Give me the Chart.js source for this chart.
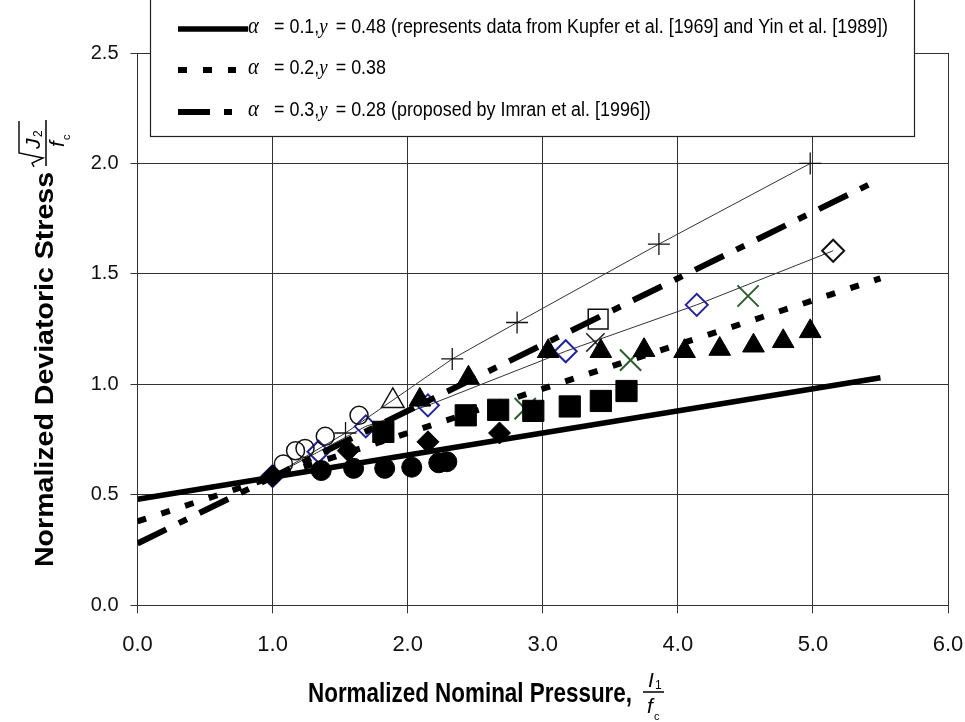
<!DOCTYPE html>
<html>
<head>
<meta charset="utf-8">
<script src="https://cdn.jsdelivr.net/npm/chart.js@4.4.0/dist/chart.umd.min.js"></script>
<style>
  html, body { margin: 0; padding: 0; background: #fff; }
  #wrap { width: 965px; height: 722px; }
</style>
</head>
<body>
<div id="wrap"><canvas id="stress" width="965" height="722"></canvas></div>
<script>
// failure envelopes: sqrt(J2)/fc = alpha * I1/fc + gamma
const envX = [0, 5.5];
const env1Y = [0.48, 1.03]; // alpha 0.1, gamma 0.48
const env2Y = [0.38, 1.48]; // alpha 0.2, gamma 0.38
const env3Y = [0.28, 1.93]; // alpha 0.3, gamma 0.28

// test data
const circleX = [1.36, 1.60, 1.83, 2.03, 2.23, 2.29];
const circleY = [0.61, 0.62, 0.62, 0.625, 0.645, 0.65];
const openCircleX = [1.08, 1.17, 1.24, 1.39, 1.64];
const openCircleY = [0.64, 0.70, 0.71, 0.765, 0.86];
const diamondX = [1.0, 1.34, 1.69, 2.15, 3.17, 4.14, 5.15];
const diamondY = [0.585, 0.695, 0.81, 0.905, 1.15, 1.36, 1.605];
const plusX = [1.0, 1.54, 2.33, 2.81, 3.86, 4.98];
const plusY = [0.585, 0.78, 1.115, 1.28, 1.635, 2.0];
const openTriX = [1.89];
const openTriY = [0.925];
const triX = [2.09, 2.45, 3.04, 3.43, 3.75, 4.05, 4.31, 4.56, 4.78, 4.98];
const triY = [0.93, 1.03, 1.15, 1.15, 1.155, 1.15, 1.16, 1.175, 1.195, 1.24];
const squareX = [1.82, 2.43, 2.67, 2.93, 3.20, 3.43, 3.62];
const squareY = [0.785, 0.86, 0.885, 0.88, 0.90, 0.925, 0.97];
const blackDiamondX = [1.0, 1.56, 2.15, 2.68];
const blackDiamondY = [0.585, 0.70, 0.74, 0.78];
const crossX = [2.87, 3.65, 4.52];
const crossY = [0.89, 1.11, 1.40];
const openSquareX = [3.41];
const openSquareY = [1.295];
const starX = [3.39];
const starY = [1.19];

const xTicks = [0, 1, 2, 3, 4, 5, 6];
const yTicks = [0, 0.5, 1.0, 1.5, 2.0, 2.5];

const legendRows = [
  { text: "= 0.1,", g: "= 0.48 (represents data from Kupfer et al. [1969] and Yin et al. [1989])" },
  { text: "= 0.2,", g: "= 0.38" },
  { text: "= 0.3,", g: "= 0.28 (proposed by Imran et al. [1996])" }
];

const pts = (xs, ys) => xs.map((x, i) => ({ x: x, y: ys[i] }));

const GRID = "#333";
const NAVY = "#22229a";
const GREEN = "#2e5e2e";

const lineStyles = [
  { width: 5.5, dash: [] },
  { width: 6, dash: [9, 16] },
  { width: 6, dash: [32, 14, 9, 14] }
];

const datasets = [
  { data: pts(envX, env1Y), showLine: true, borderColor: "#000", borderWidth: lineStyles[0].width, borderDash: lineStyles[0].dash, pointRadius: 0 },
  { data: pts(envX, env2Y), showLine: true, borderColor: "#000", borderWidth: lineStyles[1].width, borderDash: lineStyles[1].dash, pointRadius: 0 },
  { data: pts(envX, env3Y), showLine: true, borderColor: "#000", borderWidth: lineStyles[2].width, borderDash: lineStyles[2].dash, pointRadius: 0 },
  { data: pts(circleX, circleY), pointStyle: "circle", pointRadius: 10, backgroundColor: "#000", borderColor: "#000" },
  { data: pts(squareX, squareY), pointStyle: "rect", pointRadius: 15, backgroundColor: "#000", borderColor: "#000" },
  { data: pts(triX, triY), pointStyle: "triangle", pointRadius: 12.5, backgroundColor: "#000", borderColor: "#000" },
  { data: pts(blackDiamondX, blackDiamondY), pointStyle: "rectRot", pointRadius: 11, backgroundColor: "#000", borderColor: "#000" },
  { data: pts(openCircleX, openCircleY), pointStyle: "circle", pointRadius: 9, backgroundColor: "rgba(0,0,0,0)", borderColor: "#111", borderWidth: 1.5 },
  { data: pts(plusX, plusY), showLine: true, borderColor: "#333", borderWidth: 1, pointStyle: "cross", pointRadius: 11, pointBorderColor: "#111", pointBorderWidth: 1.3 },
  { data: pts(openTriX, openTriY), pointStyle: "triangle", pointRadius: 13, backgroundColor: "rgba(0,0,0,0)", borderColor: "#111", borderWidth: 1.5 },
  { data: pts(diamondX, diamondY), showLine: true, borderColor: "#333", borderWidth: 1, pointStyle: "rectRot", pointRadius: 11,
    pointBackgroundColor: "rgba(0,0,0,0)", pointBorderColor: diamondX.map((x, i) => i === diamondX.length - 1 ? "#111" : NAVY), pointBorderWidth: 2 },
  { data: pts(crossX, crossY), pointStyle: "crossRot", pointRadius: 15, borderColor: GREEN, borderWidth: 2 },
  { data: pts(starX, starY), pointStyle: "crossRot", pointRadius: 13, borderColor: "#222", borderWidth: 1.5 },
  { data: pts(openSquareX, openSquareY), pointStyle: "rect", pointRadius: 14, backgroundColor: "#fff", borderColor: "#111", borderWidth: 1.5 }
];

// draw text squeezed/stretched along its baseline to a given length
function fitText(ctx, text, x, y, length) {
  const w = ctx.measureText(text).width;
  ctx.save();
  ctx.translate(x, y);
  ctx.scale(length / w, 1);
  ctx.textAlign = "left";
  ctx.fillText(text, 0, 0);
  ctx.restore();
}

// one legend row: "= a," then italic y then "= g ..."; returns natural width
function legendRow(ctx, row, draw) {
  let cx = 0;
  ctx.font = "20px 'Liberation Sans'";
  if (draw) ctx.fillText(row.text, cx, 0);
  cx += ctx.measureText(row.text).width;
  ctx.font = "italic 21px 'Liberation Serif'";
  if (draw) ctx.fillText("y", cx, 0);
  cx += ctx.measureText("y").width + 9;
  ctx.font = "20px 'Liberation Sans'";
  if (draw) ctx.fillText(row.g, cx, 0);
  return cx + ctx.measureText(row.g).width;
}

const annotations = {
  id: "annotations",
  afterDraw(chart) {
    const ctx = chart.ctx;
    ctx.save();

    // legend box
    ctx.fillStyle = "#fff";
    ctx.fillRect(150.5, -2, 764, 138.5);
    ctx.lineWidth = 1.2;
    ctx.strokeStyle = "#222";
    ctx.strokeRect(150.5, -2, 764, 138.5);

    const rowY = [29, 70, 112];
    const sampleEnd = [248, 236, 232];
    ctx.strokeStyle = "#000";
    ctx.lineCap = "butt";
    rowY.forEach((ry, i) => {
      ctx.lineWidth = lineStyles[i].width;
      ctx.setLineDash(lineStyles[i].dash);
      ctx.beginPath();
      ctx.moveTo(178, ry);
      ctx.lineTo(sampleEnd[i], ry);
      ctx.stroke();
    });
    ctx.setLineDash([]);

    // legend text, condensed so the first row ends at the box edge
    ctx.fillStyle = "#000";
    ctx.textBaseline = "middle";
    const sx = 614 / legendRow(ctx, legendRows[0], false);
    rowY.forEach((ry, i) => {
      const ty = ry - 2;
      ctx.font = "italic 23px 'Liberation Serif'";
      ctx.save();
      ctx.translate(248, ty);
      ctx.scale(sx, 1);
      ctx.fillText("\u03b1", 0, 0);
      ctx.restore();
      ctx.save();
      ctx.translate(274, ty);
      ctx.scale(sx, 1);
      legendRow(ctx, legendRows[i], true);
      ctx.restore();
    });

    // x axis title with I1/fc
    ctx.textBaseline = "alphabetic";
    ctx.font = "bold 28px 'Liberation Sans'";
    fitText(ctx, "Normalized Nominal Pressure,", 308, 702, 324);
    ctx.font = "italic 21px 'Liberation Sans'";
    ctx.fillText("I", 648, 687);
    ctx.font = "12px 'Liberation Sans'";
    ctx.fillText("1", 655, 689);
    ctx.lineWidth = 1.5;
    ctx.strokeStyle = "#000";
    ctx.beginPath();
    ctx.moveTo(643, 692);
    ctx.lineTo(664, 692);
    ctx.stroke();
    ctx.font = "italic 21px 'Liberation Sans'";
    ctx.fillText("f", 647, 713);
    ctx.font = "11px 'Liberation Sans'";
    ctx.fillText("c", 654, 720);

    // y axis title with sqrt(J2)/fc
    ctx.save();
    ctx.translate(53, 567);
    ctx.rotate(-Math.PI / 2);
    ctx.font = "bold 25px 'Liberation Sans'";
    fitText(ctx, "Normalized Deviatoric Stress", 0, 0, 395);
    // radical sign over J2
    ctx.lineWidth = 1.4;
    ctx.beginPath();
    ctx.moveTo(400, -19);
    ctx.lineTo(404, -21);
    ctx.lineTo(409, -10);
    ctx.lineTo(414, -34);
    ctx.lineTo(446, -34);
    ctx.stroke();
    ctx.font = "italic 21px 'Liberation Sans'";
    ctx.fillText("J", 418, -13);
    ctx.font = "12px 'Liberation Sans'";
    ctx.fillText("2", 430, -11);
    ctx.lineWidth = 1.5;
    ctx.beginPath();
    ctx.moveTo(401, -7);
    ctx.lineTo(447, -7);
    ctx.stroke();
    ctx.font = "italic 21px 'Liberation Sans'";
    ctx.fillText("f", 420, 11);
    ctx.font = "11px 'Liberation Sans'";
    ctx.fillText("c", 427, 17);
    ctx.restore();

    ctx.restore();
  }
};

new Chart(document.getElementById("stress"), {
  type: "scatter",
  data: { datasets: datasets },
  options: {
    responsive: false,
    devicePixelRatio: 1,
    animation: false,
    events: [],
    layout: { padding: { left: 0, top: 53, right: 17, bottom: 0 } },
    plugins: { legend: { display: false }, tooltip: { enabled: false } },
    scales: {
      x: {
        type: "linear",
        min: 0,
        max: 6,
        afterBuildTicks: s => { s.ticks = xTicks.map(v => ({ value: v })); },
        afterFit: s => { s.height = 116.7; s.paddingLeft = 0; s.paddingRight = 0; },
        ticks: {
          callback: v => v.toFixed(1),
          font: { family: "'Liberation Sans'", size: 22 },
          color: "#111",
          padding: 18,
          maxRotation: 0
        },
        grid: { color: GRID, lineWidth: 1, tickLength: 8, tickColor: GRID },
        border: { color: GRID, width: 1 }
      },
      y: {
        type: "linear",
        min: 0,
        max: 2.5,
        afterBuildTicks: s => { s.ticks = yTicks.map(v => ({ value: v })); },
        afterFit: s => { s.width = 137.5; s.paddingTop = 0; s.paddingBottom = 0; },
        ticks: {
          callback: v => v.toFixed(1),
          font: { family: "'Liberation Sans'", size: 20 },
          color: "#111",
          padding: 12
        },
        grid: { color: GRID, lineWidth: 1, tickLength: 7, tickColor: GRID },
        border: { color: GRID, width: 1 }
      }
    }
  },
  plugins: [annotations]
});
</script>
</body>
</html>
